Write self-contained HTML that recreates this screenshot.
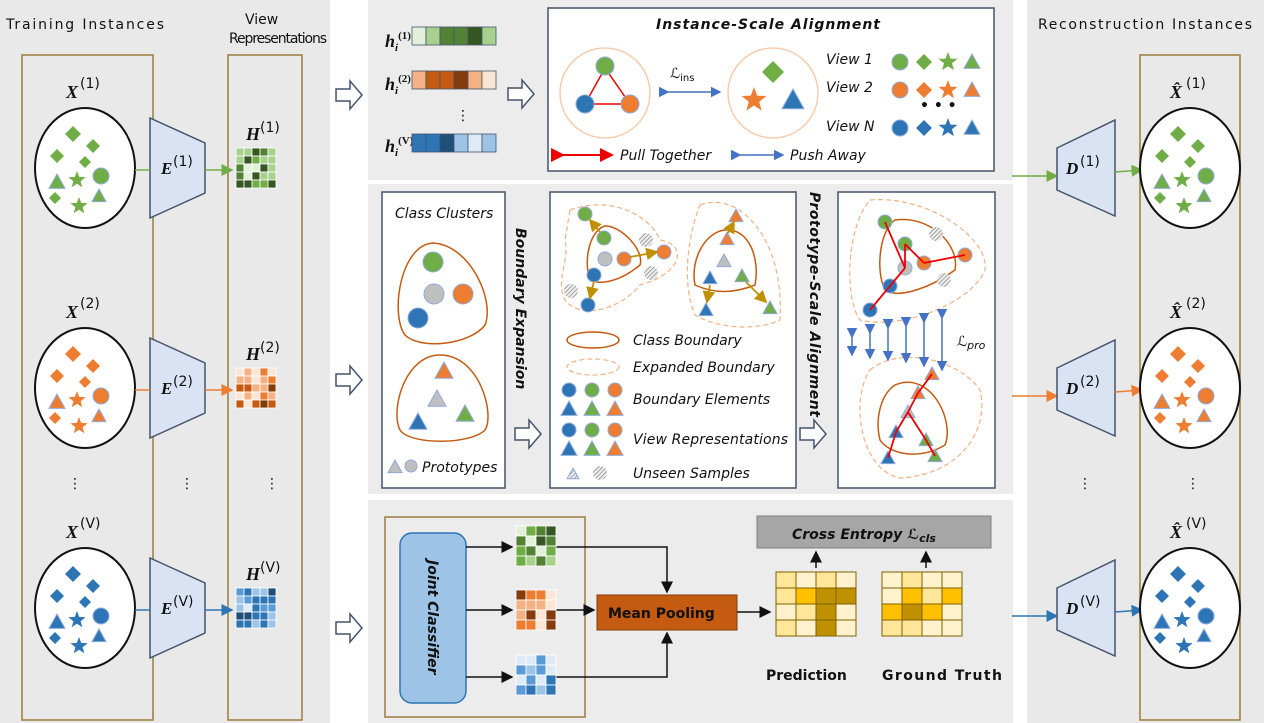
<!DOCTYPE html>
<html><head><meta charset="utf-8"><style>
html,body{margin:0;padding:0;background:#fff;}
svg{display:block;font-family:"Liberation Sans",sans-serif;}
.t{font-family:"DejaVu Sans","Liberation Sans",sans-serif;font-size:14px;fill:#111;}
.it{font-style:italic}
.m{font-family:"Liberation Serif",serif;font-style:italic;font-weight:bold;fill:#111}
</style></head><body>
<svg id="s" width="1264" height="723" viewBox="0 0 1264 723" xmlns="http://www.w3.org/2000/svg">
<defs>
<pattern id="hatch" width="3" height="3" patternUnits="userSpaceOnUse" patternTransform="rotate(45)"><rect width="3" height="3" fill="#eee"/><line x1="0" y1="0" x2="0" y2="3" stroke="#888" stroke-width="1.5"/></pattern>
<marker id="ah" markerWidth="8" markerHeight="8" refX="7" refY="4" orient="auto"><path d="M0,0 L8,4 L0,8z" fill="#111"/></marker>
<marker id="ag" markerWidth="8" markerHeight="8" refX="7" refY="4" orient="auto"><path d="M0,0 L8,4 L0,8z" fill="#70ad47"/></marker>
<marker id="ao" markerWidth="8" markerHeight="8" refX="7" refY="4" orient="auto"><path d="M0,0 L8,4 L0,8z" fill="#ed7d31"/></marker>
<marker id="ab" markerWidth="8" markerHeight="8" refX="7" refY="4" orient="auto"><path d="M0,0 L8,4 L0,8z" fill="#2e75b6"/></marker>
<marker id="ay" markerWidth="7" markerHeight="7" refX="6" refY="3.5" orient="auto"><path d="M0,0 L7,3.5 L0,7z" fill="#bf9000"/></marker>
<marker id="ar" markerWidth="7" markerHeight="7" refX="6" refY="3.5" orient="auto"><path d="M0,0 L7,3.5 L0,7z" fill="#e00"/></marker>
<marker id="au" markerWidth="7" markerHeight="7" refX="6" refY="3.5" orient="auto"><path d="M0,0 L7,3.5 L0,7z" fill="#4472c4"/></marker>
</defs>
<rect x="0" y="0" width="330" height="723" fill="#e9e9e9"/>
<rect x="368" y="0" width="645" height="180" fill="#ececec"/>
<rect x="368" y="184" width="645" height="310" fill="#ececec"/>
<rect x="368" y="500" width="645" height="223" fill="#ececec"/>
<rect x="1027" y="0" width="237" height="723" fill="#e9e9e9"/>
<rect x="22" y="55" width="131" height="665" fill="none" stroke="#9c7a3c" stroke-width="1.5"/>
<rect x="228" y="55" width="74" height="665" fill="none" stroke="#9c7a3c" stroke-width="1.5"/>
<rect x="1140" y="55" width="100" height="665" fill="none" stroke="#9c7a3c" stroke-width="1.5"/>
<text class="t" x="6" y="29" font-size="16" textLength="158">Training Instances</text>
<text class="t" x="245" y="24" font-size="16">View</text>
<text class="t" x="229" y="43" font-size="16" textLength="98">Representations</text>
<text class="t" x="1038" y="29" font-size="16" textLength="214">Reconstruction Instances</text>
<!-- top panel -->
<rect x="548" y="8" width="446" height="163" fill="#fff" stroke="#44546a" stroke-width="1.5"/>
<text class="t it" x="656" y="29" font-size="15" font-weight="bold" textLength="224">Instance-Scale Alignment</text>
<text class="t" x="670" y="78" font-size="14">ℒ<tspan font-size="10" dy="3">ins</tspan></text>
<line x1="668" y1="92" x2="720" y2="92" stroke="#4472c4" stroke-width="1.5" marker-end="url(#au)" marker-start="url(#au)"/>
<text class="t it" x="826" y="64" font-size="14">View 1</text>
<text class="t it" x="826" y="92" font-size="14">View 2</text>
<text class="t" x="920" y="110" font-weight="bold">• • •</text>
<text class="t it" x="826" y="131" font-size="14">View N</text>
<line x1="563" y1="155" x2="612" y2="155" stroke="#e00" stroke-width="2" marker-end="url(#ar)" marker-start="url(#ar)"/>
<text class="t it" x="620" y="160" font-size="14">Pull Together</text>
<line x1="740" y1="155" x2="783" y2="155" stroke="#4472c4" stroke-width="1.5" marker-end="url(#au)" marker-start="url(#au)"/>
<text class="t it" x="790" y="160" font-size="14">Push Away</text>
<text class="m" x="385" y="47" font-size="18">h<tspan font-size="11" dy="4">i</tspan><tspan font-size="11" dy="-12" font-style="normal">(1)</tspan></text>
<text class="m" x="385" y="90" font-size="18">h<tspan font-size="11" dy="4">i</tspan><tspan font-size="11" dy="-12" font-style="normal">(2)</tspan></text>
<text class="t" x="456" y="120">⋮</text>
<text class="m" x="385" y="152" font-size="18">h<tspan font-size="11" dy="4">i</tspan><tspan font-size="11" dy="-12" font-style="normal">(V)</tspan></text>
<!-- middle panel -->
<rect x="382" y="192" width="123" height="296" fill="#fff" stroke="#44546a" stroke-width="1.5"/>
<text class="t it" x="395" y="218" font-size="14">Class Clusters</text>
<text class="t it" x="422" y="472" font-size="14">Prototypes</text>
<text class="t it" transform="translate(516,228) rotate(90)" font-size="16" font-weight="bold">Boundary Expansion</text>
<rect x="550" y="192" width="246" height="296" fill="#fff" stroke="#44546a" stroke-width="1.5"/>
<text class="t it" x="633" y="345" font-size="14">Class Boundary</text>
<text class="t it" x="633" y="372" font-size="14">Expanded Boundary</text>
<text class="t it" x="633" y="404" font-size="14">Boundary Elements</text>
<text class="t it" x="633" y="444" font-size="14" textLength="155">View Representations</text>
<text class="t it" x="633" y="478" font-size="14">Unseen Samples</text>
<text class="t it" transform="translate(810,192) rotate(90)" font-size="13" font-weight="bold" textLength="225">Prototype-Scale Alignment</text>
<rect x="838" y="192" width="157" height="296" fill="#fff" stroke="#44546a" stroke-width="1.5"/>
<text class="t" x="957" y="346" font-size="16">ℒ<tspan font-size="11" dy="3" font-style="italic">pro</tspan></text>
<!-- bottom panel -->
<rect x="385" y="517" width="200" height="200" fill="none" stroke="#9c7a3c" stroke-width="1.5"/>
<rect x="400" y="533" width="66" height="170" rx="12" fill="#9dc3e6" stroke="#2e75b6" stroke-width="1.5"/>
<text class="t it" transform="translate(428,560) rotate(90)" font-size="16" font-weight="bold">Joint Classifier</text>
<rect x="597" y="595" width="140" height="35" fill="#c55a11" stroke="#843c0c"/>
<text class="t" x="608" y="618" font-size="15" font-weight="bold" fill="#111">Mean Pooling</text>
<rect x="757" y="516" width="234" height="32" fill="#a6a6a6" stroke="#7f7f7f"/>
<text class="t it" x="792" y="539" font-size="17" font-weight="bold">Cross Entropy ℒ<tspan font-size="11" dy="3">cls</tspan></text>
<text class="t" x="766" y="680" font-size="16" font-weight="bold">Prediction</text>
<text class="t" x="882" y="680" font-size="16" font-weight="bold" textLength="120">Ground Truth</text>
<line x1="816" y1="568" x2="816" y2="552" stroke="#111" stroke-width="1.5" marker-end="url(#ah)"/>
<line x1="926" y1="568" x2="926" y2="552" stroke="#111" stroke-width="1.5" marker-end="url(#ah)"/>
<line x1="737" y1="612" x2="770" y2="612" stroke="#111" stroke-width="1.5" marker-end="url(#ah)"/>
<line x1="466" y1="547" x2="512" y2="547" stroke="#111" stroke-width="1.5" marker-end="url(#ah)"/>
<line x1="466" y1="610" x2="512" y2="610" stroke="#111" stroke-width="1.5" marker-end="url(#ah)"/>
<line x1="466" y1="677" x2="512" y2="677" stroke="#111" stroke-width="1.5" marker-end="url(#ah)"/>
<polyline points="556,547 667,547 667,592" fill="none" stroke="#111" stroke-width="1.5" marker-end="url(#ah)"/>
<line x1="556" y1="610" x2="594" y2="610" stroke="#111" stroke-width="1.5" marker-end="url(#ah)"/>
<polyline points="556,677 667,677 667,633" fill="none" stroke="#111" stroke-width="1.5" marker-end="url(#ah)"/>
<g id="dyn"></g>
</svg>
<script>
var NS="http://www.w3.org/2000/svg",g=document.getElementById("dyn");
function el(t,a,p){var e=document.createElementNS(NS,t);for(var k in a)e.setAttribute(k,a[k]);(p||g).appendChild(e);return e;}
function txt(x,y,s,a){var e=el("text",Object.assign({x:x,y:y,class:"t"},a||{}));e.textContent=s;return e;}
var G="#70ad47",O="#ed7d31",B="#2e75b6";
function circ(x,y,r,c){el("circle",{cx:x,cy:y,r:r,fill:c,stroke:"#8faadc","stroke-width":1});}
function tri(x,y,r,c){el("polygon",{points:(x)+","+(y-r)+" "+(x+r)+","+(y+r*0.8)+" "+(x-r)+","+(y+r*0.8),fill:c,stroke:"#8faadc","stroke-width":1});}
function dia(x,y,r,c){el("polygon",{points:x+","+(y-r)+" "+(x+r)+","+y+" "+x+","+(y+r)+" "+(x-r)+","+y,fill:c});}
function star(x,y,r,c){var p=[];for(var i=0;i<10;i++){var a=-Math.PI/2+i*Math.PI/5,rr=i%2?r*0.42:r;p.push((x+rr*Math.cos(a)).toFixed(1)+","+(y+rr*Math.sin(a)).toFixed(1));}el("polygon",{points:p.join(" "),fill:c});}
function instance(cx,cy,c){el("ellipse",{cx:cx,cy:cy,rx:50,ry:60,fill:"#fff",stroke:"#111","stroke-width":2});
 dia(cx-12,cy-34,8,c);dia(cx+8,cy-22,7,c);dia(cx-28,cy-12,7,c);dia(cx,cy-6,6,c);tri(cx-28,cy+14,8,c);star(cx-8,cy+12,9,c);circ(cx+16,cy+8,8,c);tri(cx+14,cy+28,7,c);dia(cx-30,cy+30,6,c);star(cx-6,cy+38,9,c);}
var ys=[168,388,608],cols=[G,O,B],sups=["(1)","(2)","(V)"];
var pal={g:["#375623","#548235","#a9d18e","#e2f0d9","#70ad47"],o:["#843c0c","#c55a11","#f4b183","#fbe5d6","#ed7d31"],b:["#1f4e79","#2e75b6","#9dc3e6","#deebf7","#5b9bd5"]};
function grid(x,y,n,m,sz,p,seed){var s=seed;for(var i=0;i<n;i++)for(var j=0;j<m;j++){s=(s*9301+49297)%233280;var k=Math.floor(s/233280*5);el("rect",{x:x+j*sz,y:y+i*sz,width:sz,height:sz,fill:p[k],stroke:"#fff","stroke-width":0.8});}}
var pk=["g","o","b"];
for(var i=0;i<3;i++){var y=ys[i];
 instance(85,y,cols[i]);
 txt(66,y-70,"X",{class:"m","font-size":18});txt(80,y-80,sups[i],{"font-size":11});
 el("polygon",{points:"150,"+(y-50)+" 205,"+(y-25)+" 205,"+(y+25)+" 150,"+(y+50),fill:"#dae3f3",stroke:"#44546a","stroke-width":1.5});
 txt(161,y+6,"E",{class:"m","font-size":17});txt(173,y-2,sups[i],{"font-size":11});
 el("line",{x1:135,y1:y+2,x2:150,y2:y+2,stroke:cols[i],"stroke-width":1.5});
 el("line",{x1:205,y1:y+2,x2:232,y2:y+2,stroke:cols[i],"stroke-width":1.5,"marker-end":"url(#a"+pk[i]+")"});
 grid(236,y-20,5,5,8,pal[pk[i]],i*31+7);
 txt(246,y-28,"H",{class:"m","font-size":18});txt(260,y-36,sups[i],{"font-size":11});
 el("line",{x1:1012,y1:y+8,x2:1057,y2:y+8,stroke:cols[i],"stroke-width":1.5,"marker-end":"url(#a"+pk[i]+")"});
 el("polygon",{points:"1057,"+(y-20)+" 1115,"+(y-48)+" 1115,"+(y+48)+" 1057,"+(y+22),fill:"#dae3f3",stroke:"#44546a","stroke-width":1.5});
 txt(1066,y+6,"D",{class:"m","font-size":17});txt(1080,y-2,sups[i],{"font-size":11});
 el("line",{x1:1115,y1:y+4,x2:1142,y2:y+2,stroke:cols[i],"stroke-width":1.5,"marker-end":"url(#a"+pk[i]+")"});
 instance(1190,y,cols[i]);
 txt(1170,y-70,"X̂",{class:"m","font-size":18});txt(1186,y-80,sups[i],{"font-size":11});
 var ay=[95,380,628][i];
 el("polygon",{points:"336,"+(ay-6)+" 350,"+(ay-6)+" 350,"+(ay-14)+" 362,"+ay+" 350,"+(ay+14)+" 350,"+(ay+6)+" 336,"+(ay+6),fill:"#fff",stroke:"#44546a","stroke-width":1.5});
}
[[68,488],[180,488],[265,488],[1078,488],[1186,488]].forEach(function(p){txt(p[0],p[1],"⋮",{"font-size":18});});
[[412,38,pal.g],[412,82,pal.o],[412,145,pal.b]].forEach(function(v,k){for(var j=0;j<6;j++)el("rect",{x:v[0]+j*14,y:v[1]-11,width:14,height:18,fill:v[2][[3,2,1,1,0,2][(j+k)%6]],stroke:"#44546a","stroke-width":0.8});});
el("polygon",{points:"508,88 522,88 522,80 534,94 522,108 522,100 508,100",fill:"#fff",stroke:"#44546a","stroke-width":1.5});
el("circle",{cx:605,cy:93,r:45,fill:"#fff",stroke:"#f8cbad","stroke-width":1.5});
el("circle",{cx:773,cy:93,r:45,fill:"#fff",stroke:"#f8cbad","stroke-width":1.5});
el("polygon",{points:"605,68 585,104 630,104",fill:"none",stroke:"#e00","stroke-width":1.5});
circ(605,66,9,G);circ(585,104,9,B);circ(630,104,9,O);
dia(773,72,11,G);star(754,100,13,O);tri(793,100,11,B);
var lx=[900,924,948,972];
[[62,G],[90,O],[128,B]].forEach(function(r){circ(lx[0],r[0],8,r[1]);dia(lx[1],r[0],8,r[1]);star(lx[2],r[0],10,r[1]);tri(lx[3],r[0],8,r[1]);});
el("path",{d:"M433,243 C470,245 495,300 485,325 C470,345 420,350 405,335 C390,315 400,245 433,243z",fill:"none",stroke:"#c55a11","stroke-width":1.5});
circ(433,262,10,G);circ(434,294,10,"#bfbfbf");circ(463,294,10,O);circ(418,318,10,B);
el("path",{d:"M440,355 C480,355 495,415 485,430 C470,445 410,445 400,430 C390,410 405,355 440,355z",fill:"none",stroke:"#c55a11","stroke-width":1.5});
tri(444,371,9,O);tri(437,399,9,"#bfbfbf");tri(418,422,9,B);tri(465,414,9,G);
tri(395,467,7,"#bfbfbf");circ(411,466,6,"#bfbfbf");
el("polygon",{points:"515,428 529,428 529,420 541,434 529,448 529,440 515,440",fill:"#fff",stroke:"#44546a","stroke-width":1.5});
el("polygon",{points:"800,428 814,428 814,420 826,434 814,448 814,440 800,440",fill:"#fff",stroke:"#44546a","stroke-width":1.5});
el("path",{d:"M570,210 C610,195 650,215 660,240 C690,245 680,275 640,285 C620,310 580,320 565,300 C555,280 570,260 565,240z",fill:"none",stroke:"#f4b183","stroke-width":1.2,"stroke-dasharray":"5,3"});
el("path",{d:"M700,205 C740,190 785,240 780,320 C760,330 720,330 695,315 C680,280 690,230 700,205z",fill:"none",stroke:"#f4b183","stroke-width":1.2,"stroke-dasharray":"5,3"});
el("path",{d:"M605,226 C620,225 645,250 640,265 C620,282 600,285 590,280 C583,260 590,230 605,226z",fill:"none",stroke:"#c55a11","stroke-width":1.5});
el("path",{d:"M725,230 C750,228 760,260 755,285 C730,295 710,292 695,285 C690,260 705,232 725,230z",fill:"none",stroke:"#c55a11","stroke-width":1.5});
circ(585,214,7,G);circ(604,238,7,G);circ(605,259,7,"#bfbfbf");circ(624,259,7,O);circ(594,275,7,B);circ(588,305,7,B);circ(664,252,7,O);
el("circle",{cx:646,cy:240,r:7,fill:"url(#hatch)"});el("circle",{cx:651,cy:273,r:7,fill:"url(#hatch)"});el("circle",{cx:571,cy:291,r:7,fill:"url(#hatch)"});
tri(736,216,7,O);tri(727,239,7,O);tri(724,261,7,"#bfbfbf");tri(710,278,7,B);tri(742,276,7,G);tri(706,310,7,B);tri(770,308,7,G);
[[600,232,590,220],[630,257,657,252],[594,281,590,298],[728,233,734,222],[710,285,707,302],[746,282,766,302]].forEach(function(a){el("line",{x1:a[0],y1:a[1],x2:a[2],y2:a[3],stroke:"#bf9000","stroke-width":1.8,"marker-end":"url(#ay)"});});
el("ellipse",{cx:593,cy:340,rx:26,ry:8,fill:"none",stroke:"#c55a11","stroke-width":1.5});
el("ellipse",{cx:593,cy:367,rx:26,ry:8,fill:"none",stroke:"#f4b183","stroke-width":1.2,"stroke-dasharray":"5,3"});
[[390,[B,G,O]],[430,[B,G,O]]].forEach(function(r){r[1].forEach(function(c,j){circ(569+j*23,r[0],7,c);tri(569+j*23,r[0]+19,8,c);});});
tri(573,474,6,"url(#hatch)");el("circle",{cx:600,cy:473,r:7,fill:"url(#hatch)"});
el("path",{d:"M870,200 C930,195 990,240 985,270 C970,305 900,330 860,320 C845,300 845,230 870,200z",fill:"none",stroke:"#f4b183","stroke-width":1.2,"stroke-dasharray":"5,3"});
el("path",{d:"M895,220 C930,215 960,245 955,270 C935,285 900,300 885,290 C875,270 880,230 895,220z",fill:"none",stroke:"#c55a11","stroke-width":1.5});
circ(885,222,7,G);circ(905,244,7,G);circ(905,268,7,"#bfbfbf");circ(924,263,7,O);circ(890,286,7,B);circ(870,310,7,B);circ(965,255,7,O);
el("circle",{cx:936,cy:234,r:7,fill:"url(#hatch)"});el("circle",{cx:944,cy:280,r:7,fill:"url(#hatch)"});
[[885,222,905,268],[905,244,924,263],[924,263,965,255],[905,268,890,286],[890,286,870,310],[905,244,905,268]].forEach(function(a){el("line",{x1:a[0],y1:a[1],x2:a[2],y2:a[3],stroke:"#e00","stroke-width":1.8});});
el("path",{d:"M870,370 C900,345 960,360 980,390 C990,430 960,475 900,478 C860,470 850,400 870,370z",fill:"none",stroke:"#f4b183","stroke-width":1.2,"stroke-dasharray":"5,3"});
el("path",{d:"M895,385 C930,370 955,420 945,445 C920,460 890,455 880,440 C875,420 880,395 895,385z",fill:"none",stroke:"#c55a11","stroke-width":1.5});
tri(932,374,7,O);tri(918,393,7,O);tri(908,412,7,"#bfbfbf");tri(896,432,7,B);tri(926,440,7,G);tri(888,458,7,B);tri(935,456,7,G);
[[932,374,918,393],[918,393,908,412],[908,412,896,432],[896,432,888,458],[908,412,926,440],[926,440,935,456]].forEach(function(a){el("line",{x1:a[0],y1:a[1],x2:a[2],y2:a[3],stroke:"#e00","stroke-width":1.8});});
[[852,337,355],[870,333,358],[888,328,360],[906,326,362],[924,322,366],[942,318,370]].forEach(function(a){el("line",{x1:a[0],y1:a[1],x2:a[0],y2:a[2],stroke:"#4472c4","stroke-width":1.5,"marker-end":"url(#au)","marker-start":"url(#au)"});});
grid(516,526,4,4,10,pal.g,11);grid(516,590,4,4,10,pal.o,23);grid(516,655,4,4,10,pal.b,37);
var yp=["#bf9000","#ffc000","#ffe699","#fff2cc","#fff2cc"];
function ygrid(x,y,seed){var s=seed;for(var i=0;i<4;i++)for(var j=0;j<4;j++){s=(s*9301+49297)%233280;var k=Math.floor(s/233280*5);el("rect",{x:x+j*20,y:y+i*16,width:20,height:16,fill:yp[k],stroke:"#7f6000","stroke-width":1});}}
ygrid(776,572,5);ygrid(882,572,19);
</script>
</body></html>
